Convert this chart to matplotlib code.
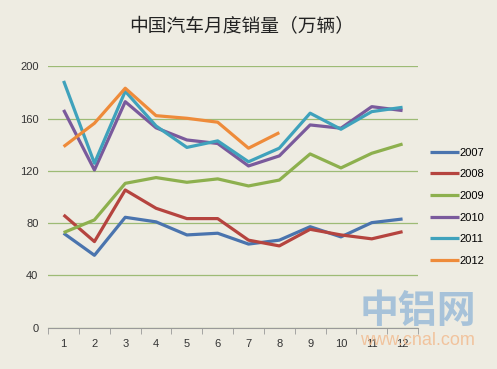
import matplotlib.pyplot as plt

plt.rcParams['font.family'] = ['Liberation Sans', 'Noto Sans CJK SC', 'DejaVu Sans']

months = list(range(1, 13))
month_labels = [str(m) for m in months]
years = ["2007", "2008", "2009", "2010", "2011", "2012"]

sales_2007 = [72.3, 55.4, 84.5, 81.0, 71.0, 72.3, 64.0, 67.0, 77.3, 69.5, 80.4, 83.2]
sales_2008 = [86.3, 65.9, 105.4, 91.4, 83.5, 83.5, 67.0, 62.6, 75.3, 71.0, 68.0, 73.5]
sales_2009 = [72.8, 82.5, 110.5, 114.9, 111.3, 113.9, 108.5, 113.0, 133.0, 122.3, 133.5, 140.6]
sales_2010 = [166.7, 120.7, 173.0, 153.0, 143.7, 141.0, 123.8, 131.5, 155.2, 152.7, 169.2, 166.2]
sales_2011 = [188.9, 125.9, 181.0, 154.4, 138.0, 143.0, 127.0, 137.4, 164.2, 151.9, 165.4, 168.7]
sales_2012 = [138.6, 156.5, 183.3, 162.3, 160.3, 157.3, 137.4, 149.3]

series = [sales_2007, sales_2008, sales_2009, sales_2010, sales_2011, sales_2012]
colors = ["#4A74AE", "#B5443F", "#8DB04E", "#7A5A9C", "#3FA2BC", "#EE8B3A"]

bg = "#EEECE2"
fig = plt.figure(figsize=(4.97, 3.69), dpi=100, facecolor=bg)
ax = fig.add_axes([0.097, 0.112, 0.744, 0.708], facecolor=bg)

for yr, vals, c in zip(years, series, colors):
    ax.plot(months[:len(vals)], vals, color=c, lw=2.3, label=yr, solid_capstyle='butt')

ax.set_xlim(0.5, 12.5)
ax.set_ylim(0, 200)
ax.set_yticks(range(0, 201, 40))
ax.yaxis.grid(True, color="#9DBB75", lw=0.9)
ax.set_axisbelow(True)
ax.tick_params(axis='y', length=0, labelsize=8, colors="#333333", pad=7)

ax.set_xticks(months)
ax.set_xticklabels(month_labels)
ax.set_xticks([m + 0.5 for m in range(0, 13)], minor=True)
ax.tick_params(axis='x', which='major', length=0, labelsize=8, colors="#333333", pad=8)
ax.tick_params(axis='x', which='minor', length=4, color="#999999", direction='out')

for s in ['top', 'right', 'left']:
    ax.spines[s].set_visible(False)
ax.spines['bottom'].set_color("#999999")

ax.legend(loc='center left', bbox_to_anchor=(1.005, 0.463), frameon=False,
          fontsize=8, handlelength=2.6, handletextpad=0.1, labelspacing=1.05)

fig.text(0.487, 0.928, "中国汽车月度销量（万辆）", ha='center', va='center',
         fontsize=13.5, family=['Noto Sans CJK SC'], color="#222222")

# watermark
fig.text(0.84, 0.157, "中铝网", ha='center', va='center', fontsize=28, fontweight='bold',
         family=['Noto Sans CJK SC'], color="#8FB5D6", alpha=0.75)
fig.text(0.839, 0.077, "www.cnal.com", ha='center', va='center', fontsize=13,
         color="#F2B98C", alpha=0.8)

fig.savefig("out.png", dpi=100, facecolor=bg)
